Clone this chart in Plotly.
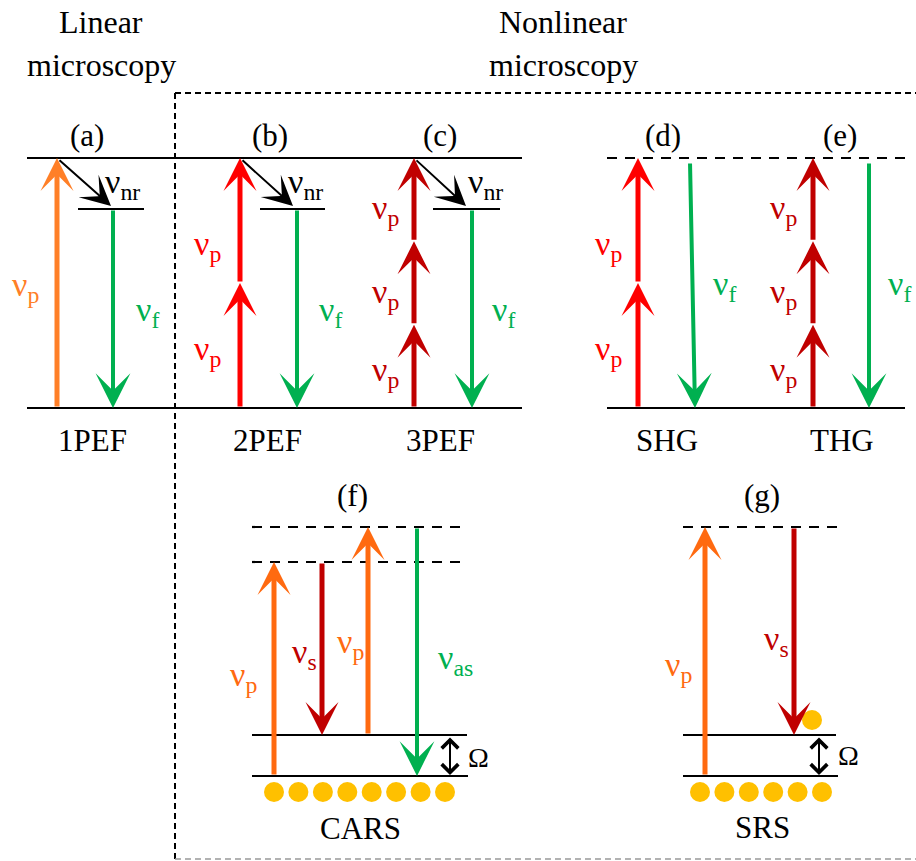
import plotly.graph_objects as go

W, H = 916, 861
FONT = "Liberation Serif"

# ---- colours ----
ORANGE = "#FF7F27"
ORANGE2 = "#FF6A10"
RED = "#FF0000"
DRED = "#C00000"
GREEN = "#00B050"
GOLD = "#FFC000"

# ---- diagram levels (pixel rows) ----
top_level = 158
mid_level = 209
ground_level = 408
virt_hi = 527
virt_lo = 562
vib_level = 735
vib_ground = 776
dot_row = 792

# ---- section titles ----
title_line1 = ["Linear", "Nonlinear"]
title_line2 = ["microscopy", "microscopy"]
title_x = [101, 563]

# ---- panel letters and process names ----
panel_letters = ["(a)", "(b)", "(c)", "(d)", "(e)", "(f)", "(g)"]
panel_letter_x = [87, 270, 440, 663, 840, 352, 762]
panel_letter_y = [135, 135, 135, 135, 135, 495, 495]
process_names = ["1PEF", "2PEF", "3PEF", "SHG", "THG", "CARS", "SRS"]
process_x = [92, 267, 440, 667, 842, 360, 762]
process_y = [440, 440, 440, 440, 440, 828, 827]

# ---- pump arrows of the top row: column x, number of photons, colour ----
pump_x = [57, 240, 414, 638, 813]
pump_n = [1, 2, 3, 2, 3]
pump_col = [ORANGE, RED, DRED, RED, DRED]

# ---- emission arrows (green) top row ----
emit_x_top = [113, 297, 472, 690, 869]
emit_x_bot = [113, 297, 472, 695, 869]
emit_from = [mid_level, mid_level, mid_level, top_level + 4, top_level + 4]

# ---- intermediate relaxed levels (fluorescence) ----
relax_x0 = [78, 260, 433]
relax_x1 = [144, 325, 500]

# ---- dots (molecules) ----
cars_dots_x = [274, 298.4, 322.9, 347.3, 371.7, 396.1, 420.6, 445]
srs_dots_x = [700, 724.4, 748.8, 773.2, 797.6, 822]

shapes = []
annotations = []


def hline(x0, x1, y, color="black", width=2.2, dash=None):
    d = dict(type="line", xref="x", yref="y", x0=x0, x1=x1, y0=y, y1=y,
             line=dict(color=color, width=width))
    if dash:
        d["line"]["dash"] = dash
    shapes.append(d)


def vline(x, y0, y1, color="black", width=2.2, dash=None):
    d = dict(type="line", xref="x", yref="y", x0=x, x1=x, y0=y0, y1=y1,
             line=dict(color=color, width=width))
    if dash:
        d["line"]["dash"] = dash
    shapes.append(d)


def arrow(xt, yt, xh, yh, color, width=5, size=1.1, head=3, both=False):
    annotations.append(dict(
        x=xh, y=yh, ax=xt, ay=yt, xref="x", yref="y", axref="x", ayref="y",
        text="", showarrow=True, arrowhead=head, arrowsize=size,
        arrowwidth=width, arrowcolor=color, standoff=0, startstandoff=0,
        arrowside="end+start" if both else "end",
        startarrowhead=head, startarrowsize=size))


def label(x, y, txt, color="black", size=31):
    annotations.append(dict(x=x, y=y, xref="x", yref="y", text=txt,
                            showarrow=False, font=dict(family=FONT, size=size, color=color)))


def nu(sub):
    return "ν<sub>" + sub + "</sub>"


NU_SIZE = 34
PUMP_HEAD = 1.1
GREEN_HEAD = 1.45
OMEGA_HEAD = 1.6

# ---- frame of the nonlinear section ----
hline(175, W, 93, dash="6px,4px", width=2)
vline(175, 93, H, dash="6px,4px", width=2)
hline(175, W, 859, color="#999999", dash="6px,4px", width=1.5)

# ---- top-row levels ----
hline(27, 522, top_level)
hline(27, 522, ground_level)
hline(607, 905, top_level, dash="10px,8px")
hline(607, 905, ground_level)
for x0, x1 in zip(relax_x0, relax_x1):
    hline(x0, x1, mid_level)

# ---- top-row pump arrows ----
for x, n, c in zip(pump_x, pump_n, pump_col):
    step = (ground_level - top_level) / n
    for k in range(n):
        y0 = ground_level - k * step
        y1 = ground_level - (k + 1) * step
        arrow(x, y0, x, y1, c, width=5, size=PUMP_HEAD)

# ---- non-radiative arrows ----
for i in range(3):
    arrow(pump_x[i] + 1, top_level + 1, relax_x0[i] + 33, mid_level - 3, "black", width=2, size=2.5)

# ---- emission arrows ----
for xt, xb, y0 in zip(emit_x_top, emit_x_bot, emit_from):
    arrow(xt, y0, xb, ground_level, GREEN, width=4, size=GREEN_HEAD)

# ---- top-row photon labels ----
label(25, 287, nu("p"), ORANGE, NU_SIZE)
for x in [147, 330, 503]:
    label(x, 312, nu("f"), GREEN, NU_SIZE)
for x in [122, 305, 485]:
    label(x, 184, nu("nr"), "black", NU_SIZE)
label(207, 246, nu("p"), RED, NU_SIZE)
label(207, 351, nu("p"), RED, NU_SIZE)
label(608, 246, nu("p"), RED, NU_SIZE)
label(608, 351, nu("p"), RED, NU_SIZE)
for x in [385, 783]:
    label(x, 210, nu("p"), DRED, NU_SIZE)
    label(x, 294, nu("p"), DRED, NU_SIZE)
    label(x, 372, nu("p"), DRED, NU_SIZE)
label(724, 286, nu("f"), GREEN, NU_SIZE)
label(899, 286, nu("f"), GREEN, NU_SIZE)

# ---- CARS ----
hline(252, 468, virt_hi, dash="10px,8px")
hline(252, 468, virt_lo, dash="10px,8px")
hline(252, 467, vib_level)
hline(252, 468, vib_ground)
arrow(274, vib_ground, 274, virt_lo, ORANGE2, width=5, size=PUMP_HEAD)
arrow(322, virt_lo, 322, vib_level, DRED, width=5, size=PUMP_HEAD)
arrow(368, vib_level, 368, virt_hi, ORANGE2, width=5, size=PUMP_HEAD)
arrow(417, virt_hi, 417, vib_ground, GREEN, width=4, size=GREEN_HEAD)
arrow(450, vib_level + 1, 450, vib_ground - 1, "black", width=2, size=OMEGA_HEAD, head=4, both=True)
label(243, 677, nu("p"), ORANGE2, NU_SIZE)
label(304, 654, nu("s"), DRED, NU_SIZE)
label(350, 644, nu("p"), ORANGE2, NU_SIZE)
label(455, 660, nu("as"), GREEN, NU_SIZE)
label(478, 757, "Ω", "black", 28)

# ---- SRS ----
hline(683, 838, virt_hi, dash="10px,8px")
hline(683, 836, vib_level)
hline(683, 838, vib_ground)
arrow(705, vib_ground, 705, virt_hi, ORANGE2, width=5, size=PUMP_HEAD)
arrow(794, virt_hi, 794, vib_level, DRED, width=5, size=PUMP_HEAD)
arrow(819, vib_level + 1, 819, vib_ground - 1, "black", width=2, size=OMEGA_HEAD, head=4, both=True)
label(678, 667, nu("p"), ORANGE2, NU_SIZE)
label(776, 641, nu("s"), DRED, NU_SIZE)
label(848, 755, "Ω", "black", 28)

# ---- titles / letters / names ----
for t1, t2, x in zip(title_line1, title_line2, title_x):
    label(x, 22, t1, "black", 32)
    label(x, 65, t2, "black", 32)
for t, x, y in zip(panel_letters, panel_letter_x, panel_letter_y):
    label(x, y, t)
for t, x, y in zip(process_names, process_x, process_y):
    label(x, y, t)

fig = go.Figure()
fig.add_trace(go.Scatter(x=cars_dots_x, y=[dot_row] * len(cars_dots_x), mode="markers",
                         marker=dict(size=20, color=GOLD), hoverinfo="skip"))
fig.add_trace(go.Scatter(x=srs_dots_x + [812], y=[dot_row] * len(srs_dots_x) + [720],
                         mode="markers", marker=dict(size=20, color=GOLD), hoverinfo="skip"))

fig.update_layout(
    width=W, height=H, margin=dict(l=0, r=0, t=0, b=0),
    paper_bgcolor="white", plot_bgcolor="white", showlegend=False,
    xaxis=dict(range=[0, W], visible=False, fixedrange=True),
    yaxis=dict(range=[H, 0], visible=False, fixedrange=True),
    shapes=shapes, annotations=annotations,
)
fig.write_html(
    "out.html",
    config={"displayModeBar": False},
    post_script="document.body.style.margin='0';document.body.style.overflow='hidden';",
)
